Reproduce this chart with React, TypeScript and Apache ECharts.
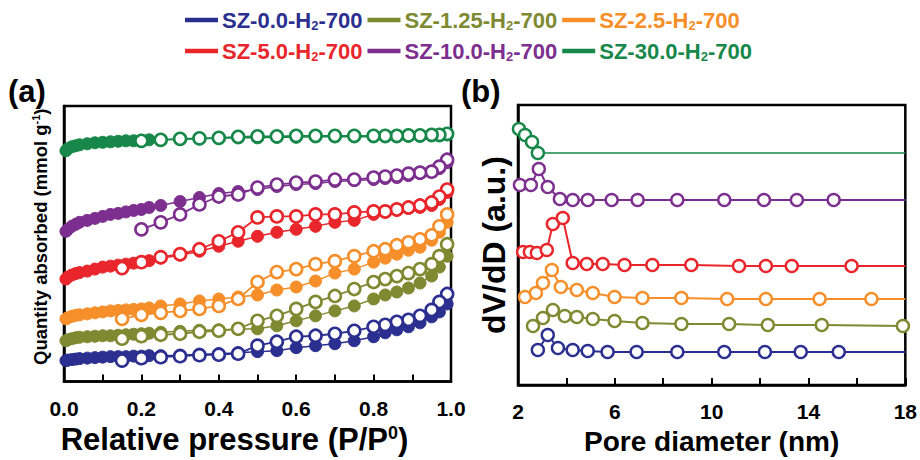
import React, { useEffect, useRef } from 'react';
import * as echarts from 'echarts';

// ---------- data ----------
const SAMPLES = ['SZ-0.0-H2-700', 'SZ-1.25-H2-700', 'SZ-2.5-H2-700', 'SZ-5.0-H2-700', 'SZ-10.0-H2-700', 'SZ-30.0-H2-700'];
const COLORS = ['#2b2f8f', '#7e8a31', '#f68e2a', '#e8262b', '#7c2f8e', '#17884a'];

// (a) N2 isotherms, vertically offset (a.u.)
const P_ADS = [0.005, 0.01, 0.02, 0.03, 0.04, 0.06, 0.08, 0.1, 0.12, 0.14, 0.16, 0.18, 0.2, 0.22, 0.25, 0.3, 0.35, 0.4, 0.45, 0.5, 0.55, 0.6, 0.65, 0.7, 0.75, 0.8, 0.83, 0.86, 0.89, 0.92, 0.95, 0.97, 0.99];
const P_DES = [0.99, 0.97, 0.95, 0.92, 0.89, 0.86, 0.83, 0.8, 0.75, 0.7, 0.65, 0.6, 0.55, 0.5, 0.45, 0.4, 0.35, 0.3, 0.25, 0.2, 0.15];

const ADS_SZ00 = [21, 21.5, 22, 22.5, 23, 23.5, 24, 24.5, 25, 25, 25, 25.5, 25.5, 26, 26, 26.5, 27.5, 28, 29, 30, 31, 34, 36, 38, 41, 45, 49, 52, 55, 59, 65, 70, 78];
const ADS_SZ125 = [41, 42, 43, 44, 44.5, 45, 45.5, 46, 46, 46.5, 47, 47.5, 48, 48.5, 49.5, 50.5, 51.5, 52, 52.5, 53, 56, 61, 66, 71, 76, 83, 87, 90, 94, 99, 106, 115, 126];
const ADS_SZ25 = [63, 64, 65.5, 66.5, 67, 68, 69, 70, 71, 71.5, 72, 72.5, 73, 74, 76, 78, 81, 83, 85, 87, 92, 95, 101, 109, 113, 120, 124, 128, 132, 135, 142, 150, 160];
const ADS_SZ50 = [103, 105, 107, 108.5, 109.5, 111, 113, 115, 116, 117, 118, 119, 120, 121.5, 124, 127, 131, 136, 141, 146, 150, 153, 156, 160, 162, 168, 170, 172, 174, 175, 177, 183, 190];
const ADS_SZ100 = [151, 153, 156, 158, 160, 162, 164, 166, 168, 169, 170.5, 172, 173, 175, 177, 181, 185, 189, 191, 193, 196, 198, 199, 201, 202, 203, 204, 205, 207, 209, 211, 214, 220];
const ADS_SZ300 = [232, 234, 236, 237, 238, 239, 240, 240.5, 241, 241.5, 242, 242, 242.5, 243, 243, 243.5, 244, 244.5, 245, 245, 245.5, 245.5, 246, 246, 246, 246, 246, 246, 246.5, 246.5, 247, 247, 248];

const DES_SZ00 = [88, 80, 72, 66, 62, 60, 57, 55, 51, 48, 46, 45, 40, 36, 28, 27, 26.5, 25.5, 24.5, 23.5, 21];
const DES_SZ125 = [138, 126, 118, 113, 109, 106, 103, 100, 93, 86, 80, 73, 66, 61, 53, 51, 50, 48, 47, 45.5, 43];
const DES_SZ25 = [168, 156, 147, 143, 140, 137, 133, 131, 126, 121, 118, 113, 110, 100, 83, 76, 73, 71, 69, 67, 63];
const DES_SZ50 = [193, 186, 180, 177, 175, 173, 171, 171, 170, 168, 168, 166, 166, 165, 150, 141, 133, 128, 125, 120, 114];
const DES_SZ100 = [223, 216, 211, 210, 209, 207, 206, 205, 203, 203, 201, 200, 198, 195, 188, 186, 178, 168, 160, 153];
const DES_SZ300 = [249, 248, 248, 247.5, 247.5, 247, 247, 247, 247, 247, 247, 247, 246.5, 246.5, 246, 245, 244.5, 244, 243, 242];

// (b) pore size distributions, vertically offset (a.u.)
const PSD_D_SZ00 = [2.82, 3.23, 3.65, 4.26, 4.88, 5.7, 6.9, 8.58, 10.52, 12.2, 13.68, 15.25, 18];
const PSD_V_SZ00 = [35, 50, 37, 35, 34, 33, 33, 33, 33, 33, 33, 33, 33];
const PSD_D_SZ125 = [2.62, 3.03, 3.44, 3.93, 4.43, 5.09, 5.99, 7.14, 8.75, 10.72, 12.32, 14.55, 17.9, 18];
const PSD_V_SZ125 = [59, 67, 75, 69, 68, 66, 64, 62, 61, 61, 60, 60, 59, 59];
const PSD_D_SZ25 = [2.29, 2.74, 3.03, 3.4, 3.77, 4.43, 5.09, 5.99, 7.14, 8.75, 10.64, 12.24, 14.46, 16.6, 18];
const PSD_V_SZ25 = [88, 92, 102, 115, 98, 95, 92, 88, 87, 87, 86, 86, 86, 86, 86];
const PSD_D_SZ50 = [2.21, 2.49, 2.78, 3.19, 3.44, 3.85, 4.26, 4.84, 5.5, 6.4, 7.55, 9.16, 11.13, 12.24, 13.31, 15.78, 18];
const PSD_V_SZ50 = [133, 133, 132, 135, 161, 167, 122, 121, 121, 120, 120, 120, 119, 119, 119, 119, 119];
const PSD_D_SZ100 = [2.08, 2.53, 2.86, 3.23, 3.73, 4.26, 4.88, 5.87, 6.94, 8.58, 10.52, 12.16, 13.52, 15.04, 18];
const PSD_V_SZ100 = [200, 200, 216, 198, 186, 185, 185, 185, 185, 185, 185, 185, 185, 185, 185];
const PSD_D_SZ300 = [2.04, 2.29, 2.58, 2.82, 18];
const PSD_V_SZ300 = [256, 250, 243, 232, 232];

const ADS = [ADS_SZ00, ADS_SZ125, ADS_SZ25, ADS_SZ50, ADS_SZ100, ADS_SZ300];
const DES = [DES_SZ00, DES_SZ125, DES_SZ25, DES_SZ50, DES_SZ100, DES_SZ300];
const PSD_D = [PSD_D_SZ00, PSD_D_SZ125, PSD_D_SZ25, PSD_D_SZ50, PSD_D_SZ100, PSD_D_SZ300];
const PSD_V = [PSD_V_SZ00, PSD_V_SZ125, PSD_V_SZ25, PSD_V_SZ50, PSD_V_SZ100, PSD_V_SZ300];

const FONT = 'Liberation Sans, Arial, sans-serif';

function buildOption() {
  const series: any[] = [];
  SAMPLES.forEach((name, i) => {
    const c = COLORS[i];
    series.push({
      name, type: 'line', xAxisIndex: 0, yAxisIndex: 0, clip: false, z: 2,
      data: P_ADS.map((p, j) => [p, ADS[i][j]]),
      symbol: 'circle', symbolSize: 12,
      itemStyle: { color: c, borderColor: c, borderWidth: 1 },
      lineStyle: { color: c, width: 1.5 },
      emphasis: { disabled: true },
    });
  });
  SAMPLES.forEach((name, i) => {
    const c = COLORS[i];
    series.push({
      name, type: 'line', xAxisIndex: 0, yAxisIndex: 0, clip: false, z: 3,
      data: DES[i].map((v, j) => [P_DES[j], v]),
      symbol: 'circle', symbolSize: 12,
      itemStyle: { color: '#ffffff', borderColor: c, borderWidth: 2.6 },
      lineStyle: { color: c, width: 1.8 },
      emphasis: { disabled: true },
    });
  });
  SAMPLES.forEach((name, i) => {
    const c = COLORS[i];
    series.push({
      name, type: 'line', xAxisIndex: 1, yAxisIndex: 1, clip: false, z: 3,
      data: PSD_D[i].map((d, j) => (d === 18 ? { value: [d, PSD_V[i][j]], symbol: 'none' } : [d, PSD_V[i][j]])),
      symbol: 'circle', symbolSize: 12,
      itemStyle: { color: '#ffffff', borderColor: c, borderWidth: 2.4 },
      lineStyle: { color: c, width: i === 5 ? 1.5 : 2 },
      emphasis: { disabled: true },
    });
  });

  const legendCommon = {
    orient: 'horizontal',
    icon: 'rect',
    itemWidth: 31,
    itemHeight: 2.5,
    itemGap: 5,
    selectedMode: false,
    formatter: (n: string) => n.replace('-H2-', '-H{s|2}-'),
    textStyle: {
      fontFamily: FONT, fontSize: 22, fontWeight: 'bold',
      rich: { s: { fontFamily: FONT, fontSize: 13, fontWeight: 'bold', padding: [11, 0, 0, 0] } },
    },
  };
  const legendItem = (i: number) => ({ name: SAMPLES[i], itemStyle: { color: COLORS[i] }, textStyle: { color: COLORS[i] } });

  const tickLabel = { fontFamily: FONT, fontSize: 21, fontWeight: 'bold', color: '#000' };

  return {
    animation: false,
    backgroundColor: '#ffffff',
    legend: [
      { ...legendCommon, left: 180, top: 4, data: [0, 1, 2].map(legendItem) },
      { ...legendCommon, left: 180, top: 35, data: [3, 4, 5].map(legendItem) },
    ],
    grid: [
      { left: 64, top: 106, width: 387, height: 277, show: true, borderColor: '#000', borderWidth: 2.5, backgroundColor: 'transparent' },
      { left: 518, top: 105, width: 389, height: 280, show: true, borderColor: '#000', borderWidth: 2.5, backgroundColor: 'transparent' },
    ],
    xAxis: [
      {
        type: 'value', gridIndex: 0, min: 0, max: 1, interval: 0.1,
        axisLine: { show: true, lineStyle: { color: '#000', width: 2.5 } },
        axisTick: { show: true, inside: true, length: 7, lineStyle: { color: '#000', width: 2 } },
        splitLine: { show: false },
        axisLabel: { ...tickLabel, margin: 16, formatter: (v: number) => (Math.round(v * 10) % 2 === 0 ? v.toFixed(1) : '') },
        name: 'Relative pressure (P/P{sup|0})',
        nameLocation: 'middle', nameGap: 42,
        nameTextStyle: {
          fontFamily: FONT, fontSize: 31, fontWeight: 'bold', color: '#000', padding: [0, 46, 0, 0],
          rich: { sup: { fontFamily: FONT, fontSize: 18, fontWeight: 'bold', color: '#000', padding: [0, 0, 14, 0] } },
        },
      },
      {
        type: 'value', gridIndex: 1, min: 2, max: 18, interval: 2,
        axisLine: { show: true, lineStyle: { color: '#000', width: 2.5 } },
        axisTick: { show: true, inside: true, length: 7, lineStyle: { color: '#000', width: 2 } },
        splitLine: { show: false },
        axisLabel: { ...tickLabel, margin: 16, formatter: (v: number) => ((Math.round(v) - 2) % 4 === 0 ? String(Math.round(v)) : '') },
        name: 'Pore diameter (nm)',
        nameLocation: 'middle', nameGap: 42,
        nameTextStyle: { fontFamily: FONT, fontSize: 28, fontWeight: 'bold', color: '#000' },
      },
    ],
    yAxis: [
      {
        type: 'value', gridIndex: 0, min: 0, max: 277,
        axisLine: { show: true, lineStyle: { color: '#000', width: 2.5 } },
        axisTick: { show: false }, axisLabel: { show: false }, splitLine: { show: false },
        name: 'Quantity absorbed (mmol g{sup|-1})',
        nameLocation: 'middle', nameGap: 14,
        nameTextStyle: {
          fontFamily: FONT, fontSize: 18.5, fontWeight: 'bold', color: '#000', padding: [0, 0, 0, 14],
          rich: { sup: { fontFamily: FONT, fontSize: 11, fontWeight: 'bold', color: '#000', padding: [0, 0, 9, 0] } },
        },
      },
      {
        type: 'value', gridIndex: 1, min: 0, max: 280,
        axisLine: { show: true, lineStyle: { color: '#000', width: 2.5 } },
        axisTick: { show: false }, axisLabel: { show: false }, splitLine: { show: false },
        name: 'dV/dD (a.u.)',
        nameLocation: 'middle', nameGap: 8,
        nameTextStyle: { fontFamily: FONT, fontSize: 32, fontWeight: 'bold', color: '#000' },
      },
    ],
    graphic: [
      { type: 'text', left: 8, top: 76, style: { text: '(a)', fontFamily: FONT, fontSize: 31, fontWeight: 'bold', fill: '#000' } },
      { type: 'text', left: 461, top: 76, style: { text: '(b)', fontFamily: FONT, fontSize: 31, fontWeight: 'bold', fill: '#000' } },
    ],
    series,
  };
}

export default function App() {
  const ref = useRef<HTMLDivElement>(null);
  useEffect(() => {
    if (!ref.current) return;
    const chart = echarts.init(ref.current, null, { renderer: 'svg' });
    chart.setOption(buildOption() as any);
    return () => chart.dispose();
  }, []);
  return (
    <div
      ref={ref}
      style={{ position: 'fixed', left: 0, top: 0, width: 920, height: 460, background: '#fff' }}
    />
  );
}
